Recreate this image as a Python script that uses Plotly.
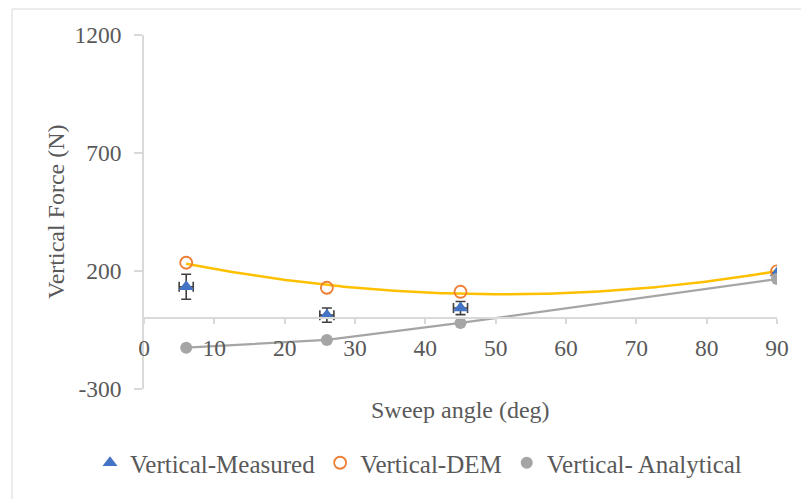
import numpy as np
import plotly.graph_objects as go

# Data
sweep = [6, 26, 45, 90]
measured = [133, 13, 43, 192]
measured_err = [53, 30, 28, 0]
measured_xerr = [1, 1, 1, 0]
dem = [235, 129, 112, 198]
analytical = [-125, -92, -20, 166]

x_ticks = [0, 10, 20, 30, 40, 50, 60, 70, 80, 90]
y_ticks = [-300, 200, 700, 1200]
y_ticklabels = ["-300", "200", "700", "1200"]

W, H = 801, 499
L, R, T, B = 144, 24, 35, 110
pw, ph = W - L - R, H - T - B

def px(xp):
    return (xp - L) / pw

def py(yp):
    return (H - B - yp) / ph

font_family = "Liberation Serif, Times New Roman, serif"
txt = "#595959"
axis_col = "#D9D9D9"

# Excel-style polynomial (order 2) trendline for DEM
coef = np.polyfit(sweep, dem, 2)
xt = np.linspace(min(sweep), max(sweep), 200)
yt = np.polyval(coef, xt)

fig = go.Figure()
fig.add_trace(go.Scatter(x=xt, y=yt, mode="lines", line=dict(color="#FFC000", width=2.5),
                         showlegend=False, hoverinfo="skip"))
fig.add_trace(go.Scatter(x=sweep, y=analytical, mode="lines", line=dict(color="#A5A5A5", width=2.2),
                         showlegend=False, hoverinfo="skip"))
fig.add_trace(go.Scatter(
    x=sweep, y=measured, mode="markers", name="Vertical-Measured",
    marker=dict(symbol="triangle-up", size=13, color="#4472C4"),
    error_y=dict(type="data", array=measured_err, color="#404040", thickness=1.6, width=5),
    error_x=dict(type="data", array=measured_xerr, color="#404040", thickness=1.6, width=5),
))
fig.add_trace(go.Scatter(
    x=sweep, y=dem, mode="markers", name="Vertical-DEM",
    marker=dict(symbol="circle-open", size=12, color="#ED7D31", line=dict(width=1.8, color="#ED7D31")),
))
fig.add_trace(go.Scatter(
    x=sweep, y=analytical, mode="markers", name="Vertical- Analytical",
    marker=dict(symbol="circle", size=12, color="#A5A5A5"),
))

fig.update_layout(
    width=W, height=H,
    margin=dict(l=L, r=R, t=T, b=B, autoexpand=False),
    paper_bgcolor="white", plot_bgcolor="white",
    font=dict(family=font_family, size=23.5, color=txt),
    showlegend=True,
    legend=dict(orientation="h", x=px(90), xanchor="left", y=py(463), yanchor="middle",
                font=dict(family=font_family, size=25, color=txt), itemwidth=30,
                tracegroupgap=0),
    xaxis=dict(range=[0, 90], tickvals=x_ticks, ticktext=[str(v) for v in x_ticks],
               anchor="free", position=300 / 1500,
               showline=True, linecolor=axis_col, linewidth=1.5, ticks="outside", ticklen=5,
               tickcolor=axis_col, tickwidth=1.5, showgrid=False, zeroline=False,
               ticklabelstandoff=4, tickfont=dict(family=font_family, size=23.5, color=txt)),
    yaxis=dict(range=[-300, 1200], tickvals=y_ticks, ticktext=y_ticklabels,
               showline=True, linecolor=axis_col,
               linewidth=1.5, ticks="outside", ticklen=8, tickcolor=axis_col, tickwidth=1.5,
               showgrid=False, zeroline=False, ticklabelstandoff=8,
               tickfont=dict(family=font_family, size=23.5, color=txt)),
    annotations=[
        dict(text="Sweep angle (deg)", xref="paper", yref="paper", x=px(460), y=py(410),
             xanchor="center", yanchor="middle", showarrow=False,
             font=dict(family=font_family, size=24, color=txt)),
        dict(text="Vertical Force (N)", xref="paper", yref="paper", x=px(56), y=py(212),
             xanchor="center", yanchor="middle", showarrow=False, textangle=-90,
             font=dict(family=font_family, size=24, color=txt)),
    ],
    shapes=[dict(type="rect", xref="paper", yref="paper", x0=px(12), x1=px(830), y0=py(540), y1=py(9),
                 line=dict(color="#D9D9D9", width=1), layer="below")],
)

fig.write_html("out.html")
